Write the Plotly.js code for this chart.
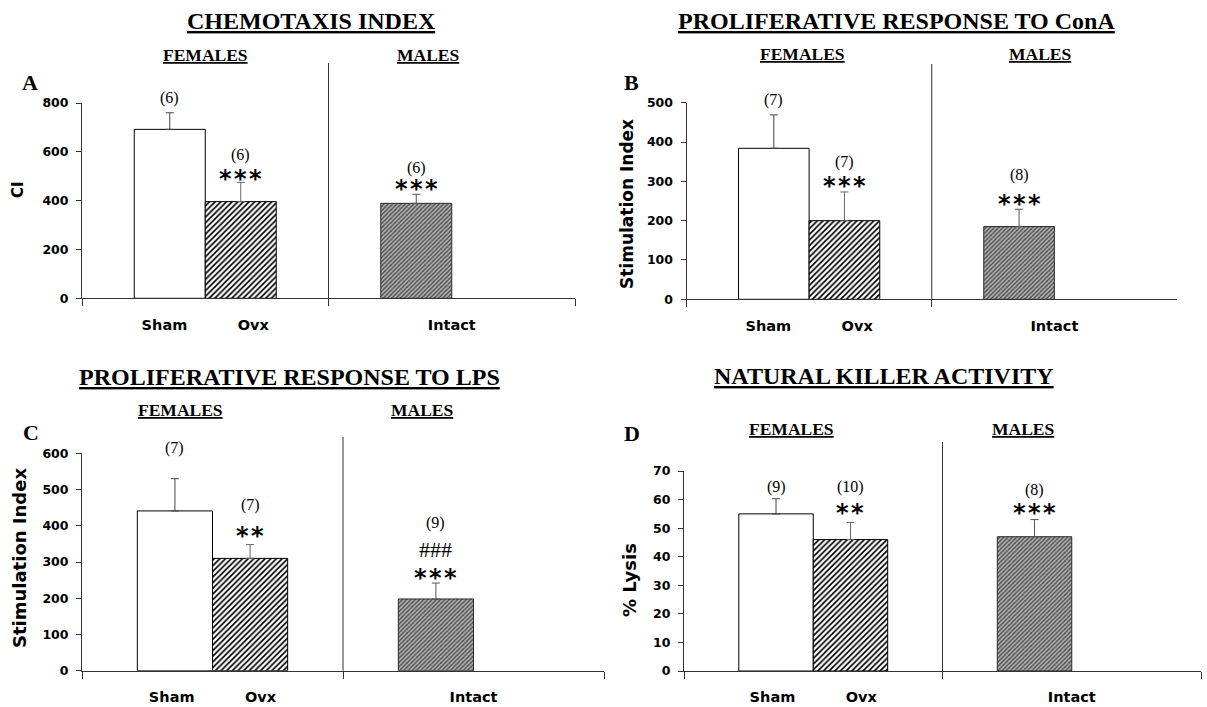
<!DOCTYPE html>
<html><head><meta charset="utf-8">
<script src="https://cdn.plot.ly/plotly-3.0.1.min.js"></script>
<style>html,body{margin:0;padding:0;background:#fff}#chart{width:1207px;height:707px}</style>
</head><body><div id="chart"></div>
<script>
// ---------- data ----------
const NB = '\u00A0';
const xCats = ['Sham' + NB.repeat(10) + 'Ovx', 'Intact'];
const groupLabels = ['FEMALES', 'MALES'];

const chemoMean = [692, 396, 389];
const chemoSem  = [68, 79, 37];
const chemoN    = ['(6)', '(6)', '(6)'];
const chemoSig  = ['', '***', '***'];

const conaMean = [384, 200, 185];
const conaSem  = [85, 73, 44];
const conaN    = ['(7)', '(7)', '(8)'];
const conaSig  = ['', '***', '***'];

const lpsMean = [441, 310, 198];
const lpsSem  = [89, 38, 44];
const lpsN    = ['(7)', '(7)', '(9)'];
const lpsSig  = ['', '**', '***'];
const lpsHash = ['', '', '###'];

const nkMean = [55, 46, 47];
const nkSem  = [5.3, 6, 6];
const nkN    = ['(9)', '(10)', '(8)'];
const nkSig  = ['', '**', '***'];

// ---------- layout config (pixels) ----------
const panels = [
  {mean: chemoMean, sem: chemoSem, n: chemoN, sig: chemoSig, hash: ['', '', ''],
   letter: 'A', title: 'CHEMOTAXIS INDEX', ytitle: 'CI', ytSize: 15,
   plot: [82, 575, 103, 298.3], ymax: 800, dtick: 200,
   titleXY: [311, 21], fem: [205, 55], mal: [428, 55], letterXY: [30, 83], ytXY: [18, 190],
   divTop: 63, nY: [98, 155, 168], sigY: [0, 174, 184], hashY: [0, 0, 0]},
  {mean: conaMean, sem: conaSem, n: conaN, sig: conaSig, hash: ['', '', ''],
   letter: 'B', title: 'PROLIFERATIVE RESPONSE TO ConA', ytitle: 'Stimulation Index', ytSize: 17,
   plot: [686.5, 1177, 102.7, 299.3], ymax: 500, dtick: 100,
   titleXY: [896, 21], fem: [802, 54], mal: [1040, 54], letterXY: [632, 82], ytXY: [627, 204],
   divTop: 64, nY: [100, 162, 175], sigY: [0, 181, 199], hashY: [0, 0, 0]},
  {mean: lpsMean, sem: lpsSem, n: lpsN, sig: lpsSig, hash: lpsHash,
   letter: 'C', title: 'PROLIFERATIVE RESPONSE TO LPS', ytitle: 'Stimulation Index', ytSize: 18,
   plot: [82, 604, 453.3, 670.7], ymax: 600, dtick: 100,
   titleXY: [289, 377], fem: [180, 410], mal: [421.5, 410], letterXY: [31, 432], ytXY: [19, 558],
   divTop: 437, nY: [448, 505, 523], sigY: [0, 531, 573], hashY: [0, 0, 549]},
  {mean: nkMean, sem: nkSem, n: nkN, sig: nkSig, hash: ['', '', ''],
   letter: 'D', title: 'NATURAL KILLER ACTIVITY', ytitle: '% Lysis', ytSize: 18,
   plot: [684, 1201, 471, 671], ymax: 70, dtick: 10,
   titleXY: [884, 376], fem: [792, 429], mal: [1023, 429], letterXY: [632, 433], ytXY: [629, 580],
   divTop: 442, nY: [487, 487, 490], sigY: [0, 508, 508], hashY: [0, 0, 0]}
];

const W = 1207, H = 707;
const fx = p => p / W, fy = p => 1 - p / H;
const serif = 'Liberation Serif, Times New Roman, serif';
const sans = 'DejaVu Sans, Verdana, sans-serif';
const BARGAP = 0.424;
const off = (1 - BARGAP) / 4;
const slotX = [-off, off, 1 - off];
const HS = '\u200A';

// bar styles: Sham (open), Ovx (hatched), Intact (grey, fine hatch)
const styles = [
  {marker: {color: '#ffffff', line: {color: '#000', width: 1}}, err: '#444', group: 'a', cat: 0},
  {marker: {color: '#ffffff', line: {color: '#000', width: 1},
            pattern: {shape: '/', fgcolor: '#000', bgcolor: '#ffffff', size: 4, solidity: 0.42}},
   err: '#666', group: 'b', cat: 0},
  {marker: {color: '#9a9a9a', line: {color: '#2a2a2a', width: 1},
            pattern: {shape: '/', fgcolor: '#4a4a4a', bgcolor: '#b4b4b4', size: 3, solidity: 0.45}},
   err: '#555', group: 'a', cat: 1}
];

const traces = [], annotations = [], shapes = [];
const layout = {
  width: W, height: H, margin: {l: 0, r: 0, t: 0, b: 0},
  paper_bgcolor: '#fff', plot_bgcolor: '#fff',
  barmode: 'group', bargap: BARGAP, bargroupgap: 0, showlegend: false
};

function txt(text, x, y, size, family, bold, extra) {
  return Object.assign({
    text: text, xref: 'paper', yref: 'paper', x: fx(x), y: fy(y),
    xanchor: 'center', yanchor: 'middle', showarrow: false,
    font: {family: family, size: size, color: '#000', weight: bold ? 'bold' : 'normal'}
  }, extra || {});
}

panels.forEach((p, i) => {
  const k = i === 0 ? '' : String(i + 1);
  const xa = 'x' + k, ya = 'y' + k;
  styles.forEach((s, j) => {
    traces.push({
      type: 'bar', x: [xCats[s.cat]], y: [p.mean[j]], xaxis: xa, yaxis: ya,
      offsetgroup: s.group, hoverinfo: 'skip', marker: s.marker,
      error_y: {type: 'data', symmetric: false, array: [p.sem[j]], arrayminus: [0],
                color: s.err, thickness: 1, width: 4}
    });
  });
  layout['xaxis' + k] = {
    domain: [fx(p.plot[0]), fx(p.plot[1])], anchor: ya, type: 'category',
    categoryorder: 'array', categoryarray: xCats, range: [-0.5, 1.5],
    showline: true, linecolor: '#333', linewidth: 1, ticks: 'outside', tickson: 'boundaries',
    ticklen: 7, tickcolor: '#333', showgrid: false, zeroline: false, fixedrange: true,
    tickfont: {family: sans, size: 14.5, color: '#000', weight: 'bold'}, ticklabelstandoff: 13
  };
  layout['yaxis' + k] = {
    domain: [fy(p.plot[3]), fy(p.plot[2])], anchor: xa, range: [0, p.ymax], dtick: p.dtick,
    tick0: 0, showline: true, linecolor: '#333', linewidth: 1, ticks: 'outside', ticklen: 5,
    tickcolor: '#333', showgrid: false, zeroline: false, fixedrange: true,
    tickfont: {family: sans, size: 12.5, color: '#000', weight: 'bold'}, ticklabelstandoff: 5
  };
  shapes.push({type: 'line', xref: xa, yref: ya + ' domain', x0: 0.5, x1: 0.5, y0: 0,
    y1: (p.plot[3] - p.divTop) / (p.plot[3] - p.plot[2]), line: {color: '#333', width: 1}});

  annotations.push(txt('<u>' + p.title + '</u>', p.titleXY[0], p.titleXY[1], 24, serif, true));
  annotations.push(txt('<u>' + groupLabels[0] + '</u>', p.fem[0], p.fem[1], 17.5, serif, true));
  annotations.push(txt('<u>' + groupLabels[1] + '</u>', p.mal[0], p.mal[1], 17.5, serif, true));
  annotations.push(txt(p.letter, p.letterXY[0], p.letterXY[1], 22, serif, true));
  annotations.push(txt(p.ytitle, p.ytXY[0], p.ytXY[1], p.ytSize, sans, true, {textangle: -90}));

  for (let j = 0; j < 3; j++) {
    annotations.push(Object.assign(txt(p.n[j], 0, p.nY[j], 16, serif, false), {xref: xa, x: slotX[j]}));
    if (p.sig[j]) {
      annotations.push(Object.assign(txt(p.sig[j].split('').join(HS), 0, p.sigY[j] + 5, 24, sans, true),
        {xref: xa, x: slotX[j]}));
    }
    if (p.hash[j]) {
      annotations.push(Object.assign(txt(p.hash[j], 0, p.hashY[j], 22, serif, false), {xref: xa, x: slotX[j]}));
    }
  }
});
layout.annotations = annotations;
layout.shapes = shapes;

Plotly.newPlot('chart', traces, layout, {displayModeBar: false, staticPlot: true});
</script></body></html>
